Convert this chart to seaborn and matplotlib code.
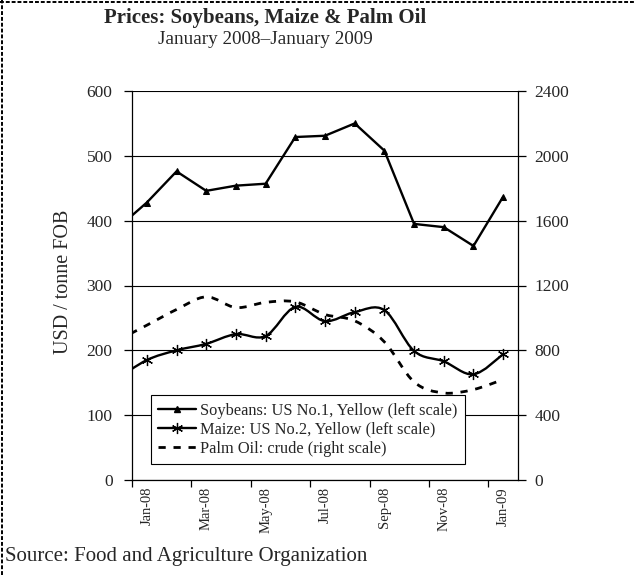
import numpy as np
import pandas as pd
import matplotlib
matplotlib.use("Agg")
import matplotlib.pyplot as plt
import seaborn as sns
from matplotlib.path import Path
from matplotlib.patches import PathPatch
from matplotlib.lines import Line2D

# Monthly FOB prices (USD / tonne); Dec-07 only anchors the line entering the plot
months = ["Dec-07", "Jan-08", "Feb-08", "Mar-08", "Apr-08", "May-08", "Jun-08",
          "Jul-08", "Aug-08", "Sep-08", "Oct-08", "Nov-08", "Dec-08", "Jan-09"]
soybeans = [388, 428, 476, 446, 454, 457, 529, 531, 550, 508, 395, 390, 361, 437]
maize = [156, 185, 200, 210, 225, 222, 267, 245, 259, 262, 199, 183, 163, 194]
palm_oil = [860, 955, 1052, 1130, 1064, 1096, 1099, 1021, 982, 852, 605, 537, 558, 620]

tick_labels = ["Jan-08", "Mar-08", "May-08", "Jul-08", "Sep-08", "Nov-08", "Jan-09"]
left_ticks = [0, 100, 200, 300, 400, 500, 600]
right_ticks = [0, 400, 800, 1200, 1600, 2000, 2400]

series_names = ["Soybeans: US No.1, Yellow (left scale)",
                "Maize: US No.2, Yellow (left scale)",
                "Palm Oil: crude (right scale)"]

df = pd.DataFrame({"month": months,
                   "pos": np.arange(len(months)) - 1,
                   "soybeans": soybeans,
                   "maize": maize,
                   "palm_oil": palm_oil})

sns.set_style("white")
plt.rcParams["font.family"] = ["Liberation Serif", "DejaVu Serif"]


def smooth_path(x, y):
    """Smoothed (Catmull-Rom style) Bezier path passing through every point."""
    pts = np.column_stack([x, y]).astype(float)
    pad = np.vstack([pts[0], pts, pts[-1]])
    verts = [pts[0]]
    codes = [Path.MOVETO]
    for i in range(len(pts) - 1):
        p0, p1, p2, p3 = pad[i], pad[i + 1], pad[i + 2], pad[i + 3]
        verts += [p1 + (p2 - p0) / 6.0, p2 - (p3 - p1) / 6.0, p2]
        codes += [Path.CURVE4] * 3
    return Path(verts, codes)


W, H = 634, 575
fig = plt.figure(figsize=(W / 100, H / 100), dpi=100)
ax = fig.add_axes([132 / W, 1 - 480 / H, 386 / W, 389 / H])
ax.set_facecolor("white")

# Soybeans: straight segments with triangle markers
sns.lineplot(data=df, x="pos", y="soybeans", ax=ax, color="black", lw=1.7,
             marker="^", markersize=5, markeredgecolor="black", markerfacecolor="black")

# Maize: smoothed curve plus asterisk markers
ax.add_patch(PathPatch(smooth_path(df["pos"], df["maize"]), facecolor="none",
                       edgecolor="black", lw=1.7, zorder=3))
sns.lineplot(data=df, x="pos", y="maize", ax=ax, color="black", linestyle="none",
             marker=(6, 2, 0), markersize=8, markeredgecolor="black",
             markeredgewidth=0.9)

ax.set_xlim(-0.5, 12.5)
ax.set_ylim(0, 600)
ax.set_yticks(left_ticks)
ax.set_xticks(np.arange(0, 13, 2))
ax.set_xticklabels(tick_labels, rotation=90, fontsize=10.5)
ax.set_xticks(np.arange(-0.5, 12, 2), minor=True)
ax.tick_params(axis="x", which="major", length=0, pad=5)
ax.tick_params(axis="x", which="minor", length=5, width=0.9, color="black",
               direction="out", bottom=True)
ax.tick_params(axis="y", length=6, width=0.9, color="black", direction="out",
               left=True, labelsize=12.5, pad=8)
ax.yaxis.grid(True, color="black", lw=0.8)
ax.xaxis.grid(False)
ax.set_axisbelow(True)
ax.set_xlabel("")
ax.set_ylabel("")
for side in ["top", "right"]:
    ax.spines[side].set_visible(False)
for side in ["left", "bottom"]:
    ax.spines[side].set_color("black")
    ax.spines[side].set_linewidth(0.9)

# Palm oil on the secondary (right) scale
ax2 = ax.twinx()
ax2.add_patch(PathPatch(smooth_path(df["pos"], df["palm_oil"]), facecolor="none",
                        edgecolor="black", lw=2.0, linestyle=(0, (2.6, 2.8)),
                        zorder=3))
ax2.set_ylim(0, 2400)
ax2.set_yticks(right_ticks)
ax2.grid(False)
ax2.tick_params(axis="y", length=6, width=0.9, color="black", direction="out",
                right=True, labelsize=12.5, pad=6)
for side in ["top", "left", "bottom"]:
    ax2.spines[side].set_visible(False)
ax2.spines["right"].set_color("black")
ax2.spines["right"].set_linewidth(0.9)
ax2.set_ylabel("")

handles = [
    Line2D([], [], color="black", lw=1.7, marker="^", markersize=5),
    Line2D([], [], color="black", lw=1.7, marker=(6, 2, 0), markersize=8,
           markeredgewidth=0.9),
    Line2D([], [], color="black", lw=2.0, linestyle=(0, (2.6, 2.8))),
]
leg = ax2.legend(handles, series_names, loc="lower left",
                 bbox_to_anchor=(0.049, 0.041), borderaxespad=0, fontsize=11.8,
                 frameon=True, fancybox=False, handlelength=2.3,
                 handletextpad=0.25, labelspacing=0.18, borderpad=0.45)
leg.get_frame().set_edgecolor("black")
leg.get_frame().set_linewidth(0.8)
leg.get_frame().set_facecolor("white")
leg.get_frame().set_alpha(1)
leg.set_zorder(10)

fig.text(64 / W, 1 - 282 / H, "USD / tonne FOB", rotation=90, ha="center",
         va="center", fontsize=14.5)
fig.text(265 / W, 1 - 18 / H, "Prices: Soybeans, Maize & Palm Oil",
         ha="center", va="center", fontsize=15, fontweight="bold")
fig.text(265 / W, 1 - 40 / H, "January 2008\u2013January 2009",
         ha="center", va="center", fontsize=13.8)
fig.text(5 / W, 1 - 556 / H, "Source: Food and Agriculture Organization",
         ha="left", va="center", fontsize=15)

# Dashed outline along the top and left edges
fig.add_artist(Line2D([0, 1], [1 - 1.5 / H, 1 - 1.5 / H], transform=fig.transFigure,
                      color="black", lw=1.4, linestyle=(0, (2, 1))))
fig.add_artist(Line2D([1.5 / W, 1.5 / W], [0, 1], transform=fig.transFigure,
                      color="black", lw=1.4, linestyle=(0, (2, 1))))

fig.savefig("out.png", dpi=100, facecolor="white")
